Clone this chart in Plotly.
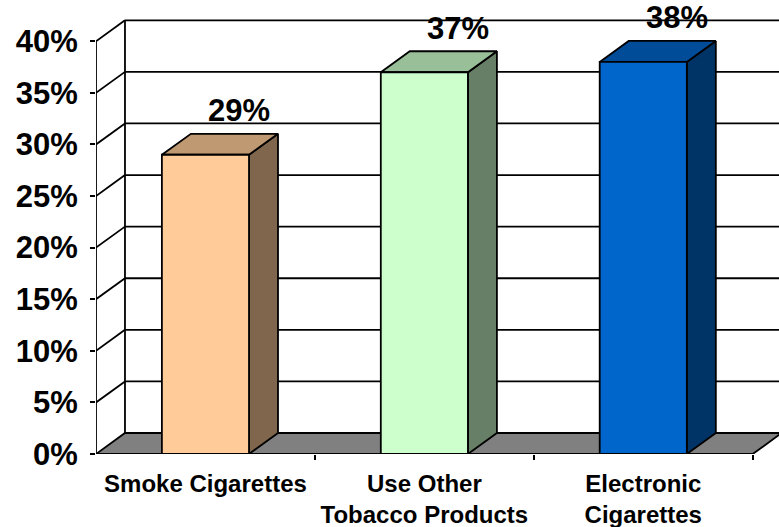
import plotly.graph_objects as go

# Survey results
categories = ["Smoke Cigarettes", "Use Other<br>Tobacco Products", "Electronic<br>Cigarettes"]
values = [29, 37, 38]
value_labels = ["29%", "37%", "38%"]
front_colors = ["#FFCC99", "#CCFFCC", "#0066CC"]
y_ticks = [0, 5, 10, 15, 20, 25, 30, 35, 40]

# Pseudo-3D geometry (in axis units)
DX = 0.1324        # depth offset along the category axis
DY = 2.035         # depth offset along the value axis
HALF_W = 0.199     # half bar width
Y_MAX = 40
LW = 1.8


def shade(hex_color, f):
    h = hex_color.lstrip("#")
    r, g, b = (int(h[i:i + 2], 16) for i in (0, 2, 4))
    return "#%02X%02X%02X" % (int(r * f), int(g * f), int(b * f))


fig = go.Figure()
shapes = []
line_style = dict(color="black", width=LW)

# Back wall and left side-wall gridlines
for t in y_ticks:
    shapes.append(dict(type="line", xref="x", yref="y", layer="below",
                       x0=-0.5 + DX, y0=t + DY, x1=len(categories) - 0.5 + DX, y1=t + DY,
                       line=line_style))
    if t > 0:
        shapes.append(dict(type="line", xref="x", yref="y", layer="below",
                           x0=-0.5, y0=t, x1=-0.5 + DX, y1=t + DY, line=line_style))
# back wall left edge
shapes.append(dict(type="line", xref="x", yref="y", layer="below",
                   x0=-0.5 + DX, y0=DY, x1=-0.5 + DX, y1=Y_MAX + DY, line=line_style))
# front value axis line
shapes.append(dict(type="line", xref="x", yref="y", layer="below",
                   x0=-0.5, y0=0, x1=-0.5, y1=Y_MAX, line=line_style))

# Floor
x_left, x_right = -0.5, len(categories) - 0.5
fig.add_trace(go.Scatter(
    x=[x_left, x_right, x_right + DX, x_left + DX, x_left],
    y=[0, 0, DY, DY, 0],
    mode="lines", fill="toself", fillcolor="#808080",
    line=dict(color="black", width=LW), hoverinfo="skip", showlegend=False))

# Bars: side, top, front faces
for i, (v, col) in enumerate(zip(values, front_colors)):
    xl, xr = i - HALF_W, i + HALF_W
    fig.add_trace(go.Scatter(
        x=[xr, xr + DX, xr + DX, xr, xr], y=[0, DY, v + DY, v, 0],
        mode="lines", fill="toself", fillcolor=shade(col, 0.5),
        line=dict(color="black", width=LW), hoverinfo="skip", showlegend=False))
    fig.add_trace(go.Scatter(
        x=[xl, xr, xr + DX, xl + DX, xl], y=[v, v, v + DY, v + DY, v],
        mode="lines", fill="toself", fillcolor=shade(col, 0.75),
        line=dict(color="black", width=LW), hoverinfo="skip", showlegend=False))
    fig.add_trace(go.Scatter(
        x=[xl, xr, xr, xl, xl], y=[0, 0, v, v, 0],
        mode="lines", fill="toself", fillcolor=col,
        line=dict(color="black", width=LW), hoverinfo="skip", showlegend=False))

# Value labels above the bars
annotations = []
for i, (v, lab) in enumerate(zip(values, value_labels)):
    annotations.append(dict(
        x=i + DX * 1.15, y=v + DY, xref="x", yref="y", text=lab, showarrow=False,
        yanchor="middle", yshift=23,
        font=dict(family="Liberation Sans", size=31, color="black", weight="bold")))

fig.update_layout(
    width=779, height=527,
    margin=dict(l=96, r=0, t=0, b=73),
    paper_bgcolor="white", plot_bgcolor="white",
    showlegend=False,
    shapes=shapes,
    annotations=annotations,
    xaxis=dict(
        range=[-0.5, 2.62], showgrid=False, zeroline=False, showline=False,
        tickmode="array", tickvals=list(range(len(categories))), ticktext=categories,
        ticks="", ticklabelstandoff=13,
        tickfont=dict(family="Liberation Sans", size=24, color="black", weight="bold"),
        minor=dict(ticks="outside", tickmode="array", tickvals=[0.5, 1.5, 2.5],
                   ticklen=5, tickwidth=LW, tickcolor="black"),
    ),
    yaxis=dict(
        range=[0, 44], showgrid=False, zeroline=False, showline=False,
        tickmode="array", tickvals=y_ticks, ticktext=[f"{t}%" for t in y_ticks],
        ticks="outside", ticklen=5, tickwidth=LW, tickcolor="black",
        ticklabelstandoff=6,
        tickfont=dict(family="Liberation Sans", size=31, color="black", weight="bold"),
    ),
)

fig.write_html("out.html")
